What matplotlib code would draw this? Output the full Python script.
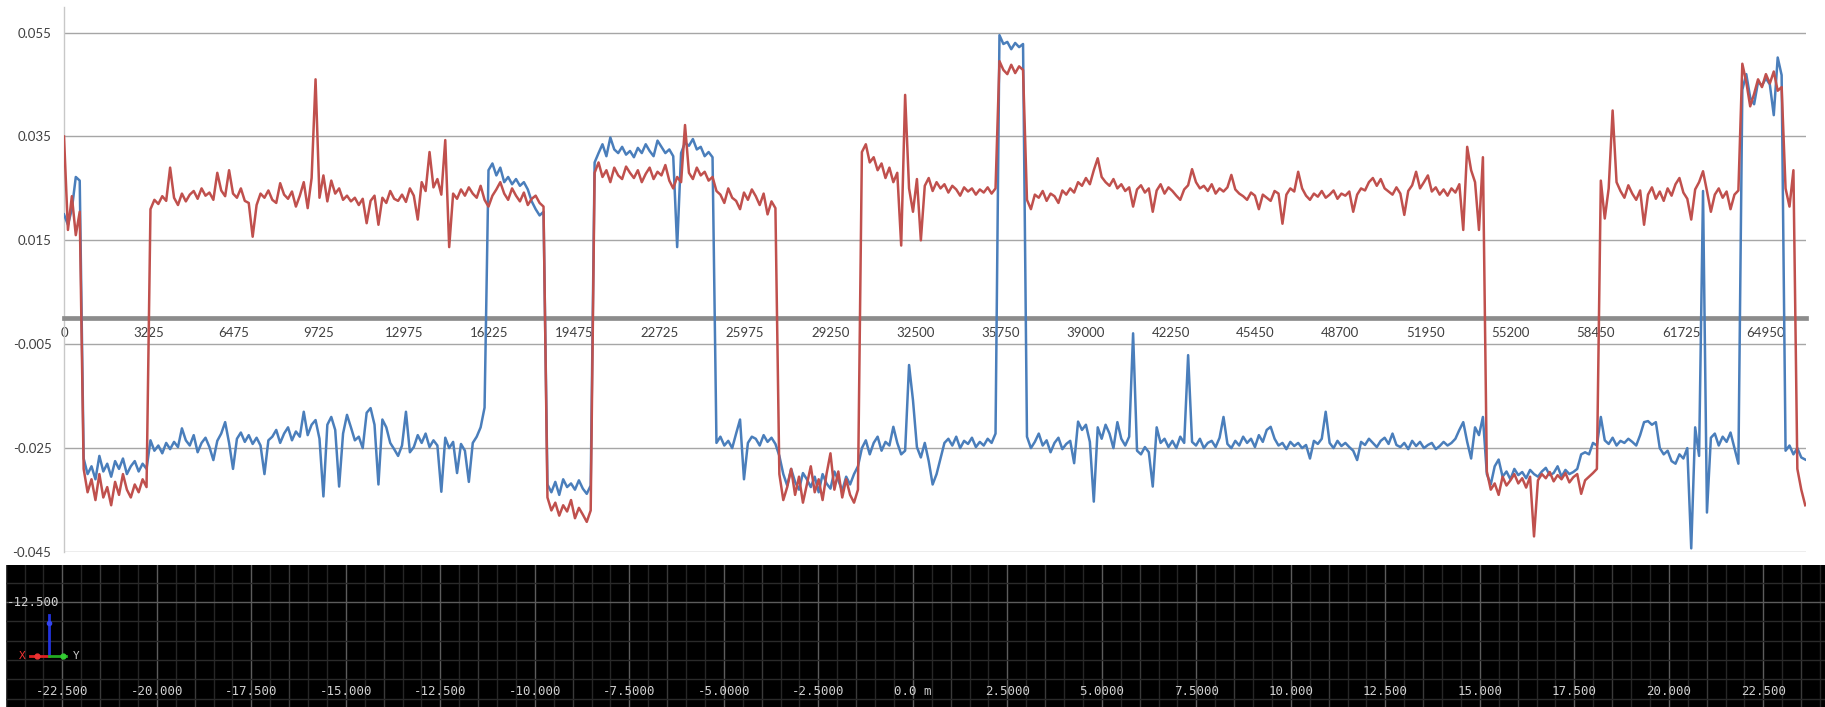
import numpy as np
import matplotlib
matplotlib.use('Agg')
import matplotlib.pyplot as plt

plt.rcParams['font.family'] = ['Lato', 'DejaVu Sans']

# logged rows are evenly spaced, one sample every 150 counts
step = 150

# blue channel, units of 1e-4
blue_e4 = [
    200, 180, 210, 272, 265,
    -270, -300, -285, -310, -265, -295, -280, -305, -275, -290, -270, -300, -285, -275, -295, -280, -290,
    -235, -255, -245, -260, -240, -252, -238, -248, -212, -235,
    -245, -225, -258, -240, -230, -248, -273, -236, -222, -200,
    -240, -290, -232, -220, -238, -225, -242, -230, -245, -300,
    -235, -228, -215, -240, -222, -210, -235, -218, -228, -180,
    -225, -205, -196, -232, -343, -205, -190, -215, -324, -222,
    -186, -210, -235, -228, -250, -182, -173, -205, -320, -195,
    -210, -240, -252, -265, -245, -180, -258, -248, -225, -240,
    -222, -248, -235, -245, -334, -230, -250, -238, -298, -242,
    -255, -315, -240, -228, -210, -172,
    285, 298, 275, 290, 262, 272, 258, 268, 255, 262, 248, 225, 210, 198, 205,
    -320, -335, -315, -340, -310, -325, -318, -330, -312, -328, -338, -322,
    300, 318, 335, 312, 348, 325, 318, 330, 315, 322,
    310, 328, 318, 335, 322, 312, 342, 330, 318, 325,
    312, 137, 318, 338, 332, 345, 325, 330, 312, 320,
    310,
    -240, -228, -245, -236, -250, -222, -195, -310, -240, -228, -232, -245, -225, -238, -230, -242,
    -265, -300, -322, -290, -315, -330, -298, -310, -325, -305, -335, -300, -318, -328, -295, -312,
    -332, -305, -320, -300, -285,
    -250, -235, -262, -240, -228, -255, -238, -245, -209, -240,
    -262, -255, -90, -158, -248, -268, -240, -275, -320, -300,
    -270, -240, -232, -245, -228, -250, -236, -242, -230, -248,
    -238, -245, -232, -240, -222,
    545, 528, 532, 518, 530, 522, 528,
    -228, -250, -238, -222, -245, -235, -258, -240, -230, -252,
    -242, -236, -279, -199, -215, -205, -238, -353, -210, -232,
    -205, -222, -250, -200, -232, -245, -228, -29, -255, -262,
    -248, -258, -324, -210, -240, -232, -248, -236, -250, -228,
    -240, -71, -238, -245, -232, -250, -240, -236, -248, -230,
    -190, -242, -250, -236, -245, -228, -240, -232, -248, -225,
    -238, -215, -209, -232, -245, -240, -252, -238, -246, -240,
    -250, -244, -270, -236, -242, -232, -180, -240, -250, -236,
    -246, -240, -248, -255, -273, -238, -244, -232, -240, -248,
    -236, -230, -242, -222, -244, -248, -240, -252, -236, -246,
    -238, -250, -244, -240, -252, -246, -238, -245, -240, -232,
    -215, -200, -238, -270, -210, -225, -190,
    -300, -320, -285, -272, -305, -295, -310, -290, -302, -296,
    -308, -292, -300, -305, -295, -288, -302, -298, -285, -305,
    -292, -300, -296, -290, -262, -258, -262, -240, -245,
    -190, -235, -242, -230, -245, -236, -240, -232, -238, -245,
    -225, -200, -198, -205, -200, -250, -262, -255, -275, -280,
    -262, -270, -250, -443, -210, -265, 245, -374, -230, -222,
    -245, -228, -238, -220, -250, -280,
    440, 470, 425, 412, 455, 448, 462, 450, 391, 502, 468,
    -255, -245, -262, -250, -268, -272,
]

# red channel, units of 1e-4
red_e4 = [
    350, 170, 235, 160, 205,
    -290, -335, -310, -350, -300, -345, -325, -360, -315, -340, -300, -330, -345, -320, -335, -310, -325,
    210, 228, 220, 235, 226, 290, 232, 218, 240, 225,
    238, 245, 230, 250, 236, 242, 228, 280, 246, 235,
    285, 240, 232, 250, 226, 222, 157, 218, 240, 232,
    246, 228, 222, 260, 238, 230, 244, 215, 236, 262,
    212, 270, 460, 232, 275, 225, 265, 240, 250, 228,
    236, 225, 232, 218, 230, 183, 226, 236, 180, 232,
    222, 245, 230, 226, 238, 224, 250, 236, 190, 262,
    245, 320, 252, 268, 238, 343, 137, 240, 230, 248,
    236, 252, 240, 232, 255, 228, 215, 236, 248, 262,
    240, 228, 250, 236, 225, 242, 218, 230, 236, 222,
    215,
    -345, -370, -355, -380, -360, -372, -350, -385, -365, -378, -392, -370,
    280, 300, 272, 285, 262, 290, 275, 268, 292, 280,
    270, 285, 262, 278, 290, 268, 282, 275, 295, 265,
    250, 272, 262, 372, 280, 268, 290, 275, 282, 265,
    272, 245, 238, 222, 250, 232, 226, 210, 242, 228,
    248, 235, 218, 240, 200, 225, 212,
    -300, -350, -325, -290, -340, -305, -355, -320, -285, -335,
    -310, -350, -300, -260, -330, -295, -345, -310, -340, -355, -330,
    320, 335, 300, 310, 285, 298, 270, 290, 262, 280,
    140, 430, 250, 205, 268, 150, 255, 270, 245, 262,
    250, 258, 242, 255, 248, 236, 252, 244, 250, 238,
    248, 242, 252, 240, 250,
    495, 478, 470, 488, 472, 485, 478,
    228, 210, 238, 232, 245, 226, 240, 235, 222, 246,
    238, 250, 242, 262, 255, 270, 258, 285, 308, 272,
    262, 255, 268, 250, 258, 245, 252, 215, 248, 256,
    242, 250, 205, 246, 258, 240, 252, 245, 236, 228,
    248, 256, 287, 262, 250, 255, 245, 258, 240, 250,
    244, 252, 276, 248, 240, 235, 228, 242, 236, 210,
    238, 232, 226, 245, 240, 182, 238, 250, 244, 282,
    250, 236, 228, 240, 234, 245, 232, 238, 246, 230,
    240, 236, 244, 205, 238, 250, 246, 262, 270, 255,
    268, 250, 244, 238, 252, 240, 199, 245, 256, 282,
    250, 262, 275, 244, 252, 238, 248, 236, 250, 242,
    258, 170, 330, 285, 262, 170, 310,
    -295, -330, -318, -340, -305, -322, -312, -300, -318, -308,
    -326, -305, -420, -312, -300, -308, -296, -314, -302, -310,
    -298, -316, -306, -300, -338, -312, -305, -298, -290,
    265, 192, 250, 400, 262, 245, 232, 256, 240, 228,
    246, 180, 238, 252, 230, 244, 226, 250, 236, 258,
    270, 242, 230, 190, 248, 262, 283, 245, 205, 238,
    250, 232, 244, 210, 238, 246,
    490, 455, 408, 432, 460, 445, 470, 452, 475, 438, 445,
    250, 215, 285,
    -290, -330, -360,
]

x_ticks = [0, 3225, 6475, 9725, 12975, 16225, 19475, 22725, 25975, 29250, 32500,
           35750, 39000, 42250, 45450, 48700, 51950, 55200, 58450, 61725, 64950]
y_ticks = [-0.045, -0.025, -0.005, 0.015, 0.035, 0.055]

# metric ruler along the bottom strip
ruler_ticks = [-22.5, -20.0, -17.5, -15.0, -12.5, -10.0, -7.5, -5.0, -2.5, 0.0,
               2.5, 5.0, 7.5, 10.0, 12.5, 15.0, 17.5, 20.0, 22.5]
ruler_labels = ['-22.500', '-20.000', '-17.500', '-15.000', '-12.500', '-10.000',
                '-7.5000', '-5.0000', '-2.5000', '0.0 m', '2.5000', '5.0000', '7.5000',
                '10.000', '12.500', '15.000', '17.500', '20.000', '22.500']

assert len(blue_e4) == len(red_e4)
blue = np.array(blue_e4) / 1e4
red = np.array(red_e4) / 1e4
x = np.arange(len(red)) * step

W, H = 1825, 707
fig = plt.figure(figsize=(W / 100, H / 100), dpi=100)
fig.patch.set_facecolor('white')

# --- top line chart ---
ax = fig.add_axes([64 / W, 1 - 552 / H, (1806 - 64) / W, (552 - 6.6) / H])
ax.plot(x, blue, color='#4a7ebb', lw=1.8, zorder=3)
ax.plot(x, red, color='#c0504d', lw=1.8, zorder=4)
ax.set_xlim(0, 66480)
ax.set_ylim(-0.045, 0.06)

ax.set_yticks(y_ticks)
ax.set_yticklabels(['%.3f' % v for v in y_ticks])
ax.yaxis.grid(True, color='#a6a6a6', lw=1.0)
ax.set_axisbelow(True)
ax.tick_params(axis='y', length=0, pad=9, labelsize=9.5, labelcolor='#404040')

ax.set_xticks(x_ticks)
ax.set_xticklabels([str(t) for t in x_ticks])
ax.tick_params(axis='x', length=0, pad=6, labelsize=9.5, labelcolor='#404040')

ax.spines['top'].set_visible(False)
ax.spines['right'].set_visible(False)
ax.spines['left'].set_color('#c8c8c8')
ax.spines['left'].set_linewidth(1.0)
ax.spines['bottom'].set_position(('data', 0))
ax.spines['bottom'].set_color('#8c8c8c')
ax.spines['bottom'].set_linewidth(3.4)
ax.spines['bottom'].set_zorder(2.5)

# --- dark grid strip ---
bx = fig.add_axes([6 / W, 0, 1 - 6 / W, 142 / H])
bx.set_facecolor('black')
bx.set_xlim(-23.99, 24.13)
bx.set_ylim(-15.22, -11.54)
bx.set_xticks([])
bx.set_yticks([])
for sp in bx.spines.values():
    sp.set_visible(False)

for v in np.arange(-24.0, 24.5, 0.5):
    if abs(v / 2.5 - round(v / 2.5)) < 1e-6:
        c = '#5c5c5c'
    elif abs((v - 1.0) / 2.5 - round((v - 1.0) / 2.5)) < 1e-6:
        c = '#3a3a3a'
    else:
        c = '#262626'
    bx.axvline(v, color=c, lw=1.0, zorder=1)
for v in np.arange(-15.0, -11.4, 0.5):
    c = '#5c5c5c' if v == -12.5 else '#2a2a2a'
    bx.axhline(v, color=c, lw=1.0, zorder=1)

for t, lab in zip(ruler_ticks, ruler_labels):
    bx.text(t, -14.83, lab, ha='center', va='center', color='#d0d0d0',
            fontsize=9, family='DejaVu Sans Mono', zorder=3)
bx.text(-23.97, -12.5, '-12.500', ha='left', va='center', color='#d0d0d0',
        fontsize=9, family='DejaVu Sans Mono', zorder=3)

# axis triad in the corner
ox, oy = -22.857, -13.899
bx.plot([ox, ox], [oy, -12.837], color='#2233dd', lw=2, zorder=4)
bx.plot([ox, -23.36], [oy, oy], color='#dd2222', lw=2, zorder=4)
bx.plot([ox, -22.41], [oy, oy], color='#22aa22', lw=2, zorder=4)
bx.plot([ox], [-13.05], 'o', color='#3344ee', ms=3, zorder=5)
bx.plot([-23.17], [oy], 'o', color='#ee3333', ms=3.5, zorder=5)
bx.plot([-22.49], [oy], 'o', color='#33cc33', ms=3.5, zorder=5)
bx.text(-23.55, oy, 'X', ha='center', va='center', color='#ee3333',
        fontsize=8, family='DejaVu Sans Mono', zorder=5)
bx.text(-22.14, oy, 'Y', ha='center', va='center', color='#cccccc',
        fontsize=8, family='DejaVu Sans Mono', zorder=5)

fig.savefig('out.png', dpi=100, facecolor='white')
